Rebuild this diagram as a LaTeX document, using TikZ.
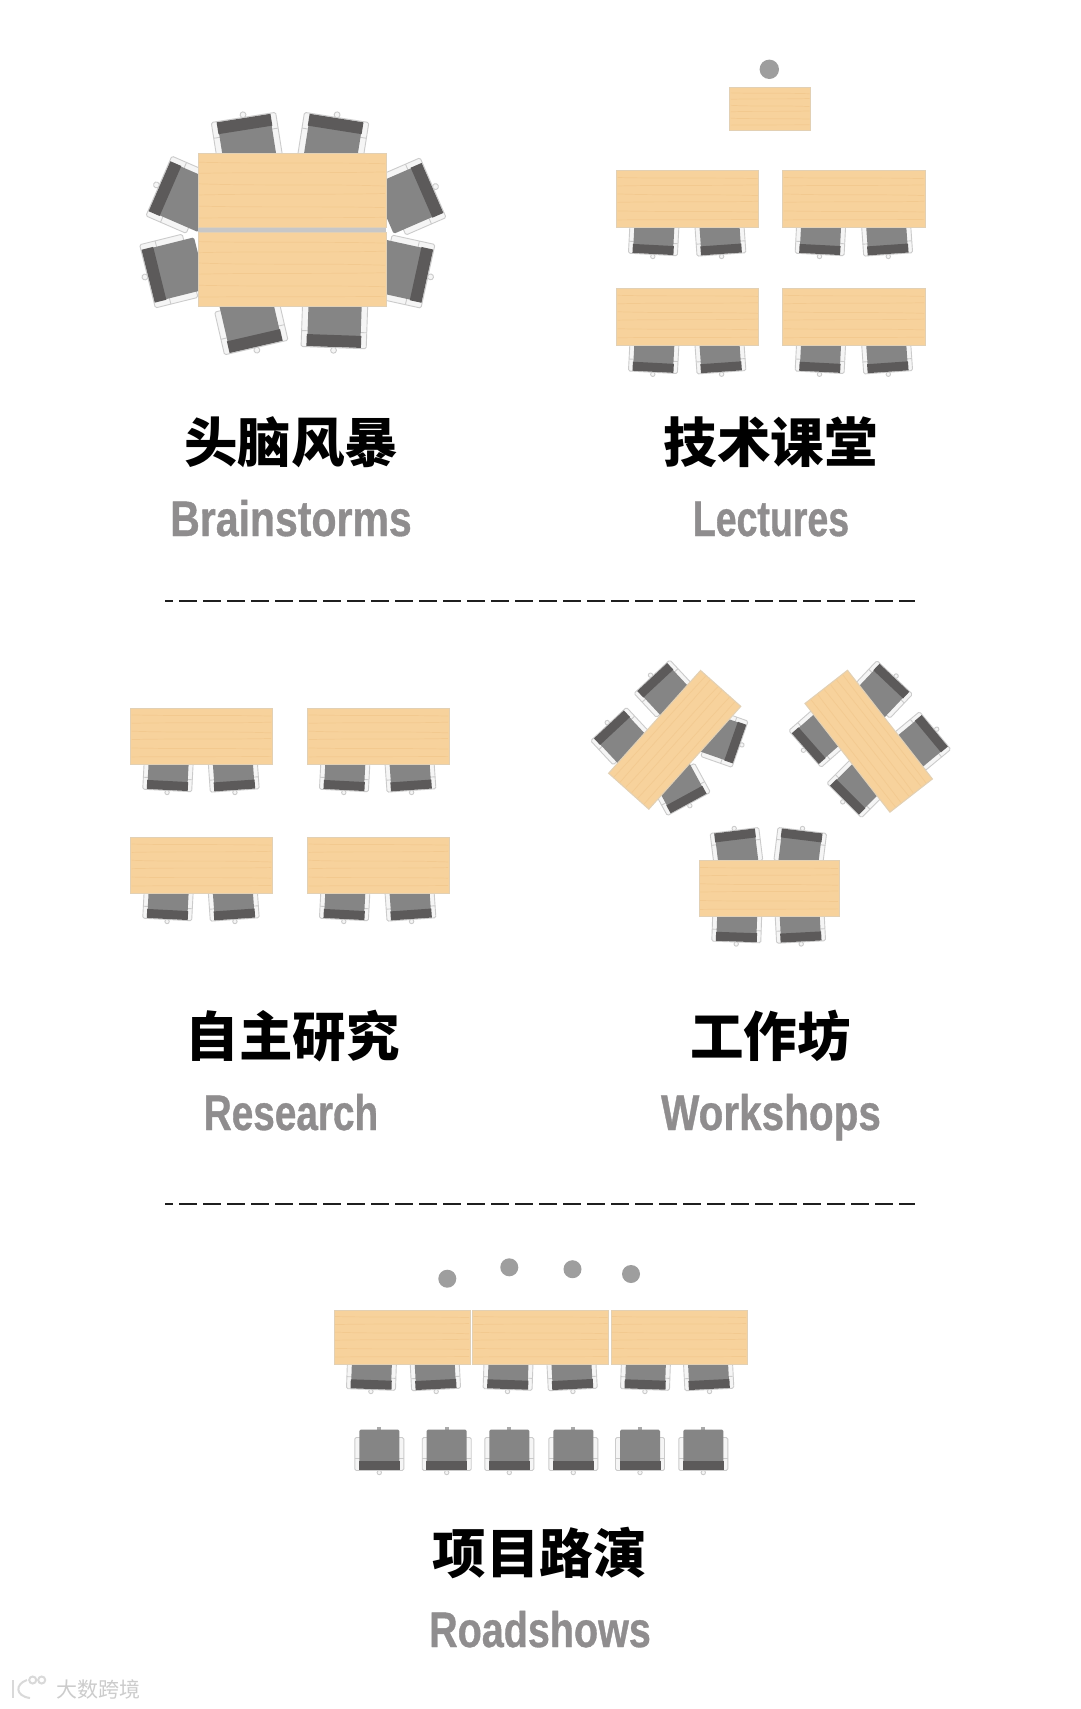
\documentclass[tikz,border=0pt]{standalone}
\usepackage{fontspec}
\newfontfamily\cjk{Noto Sans CJK SC}
\newfontfamily\narrowsans{Liberation Sans}

\definecolor{wood}{HTML}{F7D29C}
\definecolor{woodgrain}{HTML}{EFC386}
\definecolor{woodedge}{HTML}{E2D0B4}
\definecolor{seat}{HTML}{858585}
\definecolor{chairback}{HTML}{5C5A5A}
\definecolor{rail}{HTML}{CBCBCB}
\definecolor{person}{HTML}{9E9E9E}
\definecolor{engrey}{HTML}{8F8D8E}

\tikzset{
  titlecn/.style={font=\cjk\bfseries\fontsize{53.5}{60}\selectfont,anchor=base,inner sep=0pt},
  titleen/.style={font=\narrowsans\bfseries\fontsize{50}{55}\selectfont\addfontfeature{FakeStretch=#1,FakeBold=0.7},text=engrey,anchor=base,inner sep=0pt},
  sepline/.style={draw=black!88,line width=2pt,dash pattern=on 18pt off 6pt,dash phase=10pt},
  railpart/.style={fill=white!96!black,draw=rail,line width=0.9pt},
  logomark/.style={draw=black!15,line width=2pt}
}

% chair: x, y, angle, size (origin in the middle, back towards +y)
\newcommand{\chair}[4]{
\begin{scope}[shift={(#1,#2)},rotate=#3,scale=#4]
  \fill[seat!70] (-2,-22.5) rectangle (2,-19);
  \draw[railpart,rounded corners=1.5pt] (-24.5,-12) rectangle (24.5,21);
  \draw[rail,line width=0.9pt] (-24.5,9) -- (24.5,9);
  \draw[railpart] (0,23) circle (2.2);
  \fill[seat,rounded corners=1.5pt] (-20,-20) rectangle (20,14);
  \fill[chairback] (-20.5,11.5) rectangle (20.5,20.5);
\end{scope}
}

% desk: x, y, width, height, angle
\newcommand{\desk}[5]{
\begin{scope}[shift={(#1,#2)},rotate=#5]
  \fill[wood,draw=woodedge,line width=1pt] (-#3/2,-#4/2) rectangle (#3/2,#4/2);
  \foreach \f/\g in {.12/.14,.27/.25,.41/.44,.56/.54,.71/.73,.87/.86}
    \draw[woodgrain,opacity=0.55,line width=0.7pt] (-#3/2+1,-#4/2+\f*#4) .. controls (-#3/6,-#4/2+\g*#4) and (#3/6,-#4/2+\f*#4) .. (#3/2-1,-#4/2+\g*#4);
\end{scope}
}

\begin{document}
\begin{tikzpicture}[x=1pt,y=-1pt]

\fill[white] (0,0) rectangle (1080,1709);
\useasboundingbox (0,0) rectangle (1080,1709);

%brainstorms:
\foreach \x/\y/\a in {247.8/145/189,332.3/145/171,184.5/197.1/246.5,174.6/269.6/284,
  407.5/198.8/113.5,400.7/270.3/77.6,250/320.3/13,334.6/319.7/-2}
        \chair{\x}{\y}{\a}{1.33};
\fill[black!22] (197.7,227) rectangle (386,233);
\desk{292}{190.5}{188}{74.4}{0}
\desk{292}{269.7}{188}{74}{0}

\node[titlecn] (brainstormcn) at (291,462) {头脑风暴};
\node[titleen=0.82] (brainstormen) at (291,536) {Brainstorms};

%lectures:
\fill[person] (769.3,69.3) circle (9.7);
\desk{770.3}{109.2}{80.7}{43}{0}
\foreach \y in {233.5,351.3}
        \foreach \x/\a in {654/-3,720/4,820.7/-3,886.7/4}
                \chair{\x}{\y}{\a}{1};
\foreach \y in {199,316.8}
        \foreach \x in {687.8,854}
                \desk{\x}{\y}{142.3}{56.6}{0};

\node[titlecn] (lecturecn) at (770.5,462) {技术课堂};
\node[titleen=0.75] (lectureen) at (771,536) {Lectures};

\draw[sepline] (165,600.7) -- (915,600.7);
\draw[sepline] (165,1204) -- (915,1204);

%research:
\foreach \y in {769.5,898.5}
        \foreach \x/\a in {168.3/-3,233.3/4,345/-3,410/4}
                \chair{\x}{\y}{\a}{1};
\foreach \y in {736.2,865.3}
        \foreach \x in {201.4,378.4}
                \desk{\x}{\y}{141.3}{56}{0};

\node[titlecn] (researchcn) at (292.6,1056) {自主研究};
\node[titleen=0.775] (researchen) at (291,1130) {Research};

%workshops:
\foreach \x/\y/\a in {666.2/692/223,622.9/739.4/223,720.2/737.3/70.7,678.8/785.5/28.6,
  880.3/692.7/136.6,919/743.9/129.7,820.7/735.1/311.3,859/785.6/315,
  737/851.3/187,799.7/851.3/173,737/921/-2,800/921/3}
        \chair{\x}{\y}{\a}{1};
\desk{674.7}{739.8}{138}{54}{48.2}
\desk{868.7}{741.2}{138}{54}{-52}
\desk{769.2}{888.7}{140}{56}{0}

\node[titlecn] (workshopcn) at (770.4,1056) {工作坊};
\node[titleen=0.81] (workshopen) at (771,1130) {Workshops};

%roadshows:
\foreach \x/\y in {447.3/1278.7,509.3/1267.3,572.5/1269.2,631/1274}
        \fill[person] (\x,\y) circle (9);
\foreach \x/\a in {371.7/-2,435/3,508.3/-2,571.7/3,645.7/-2,708.3/3}
        \chair{\x}{1368.5}{\a}{1};
\foreach \x in {402,540.5,679}
        \desk{\x}{1337}{136}{54}{0};
\foreach \x in {379.3,446.7,509.3,573.3,640,703.3}
        \chair{\x}{1449.5}{0}{1};

\node[titlecn] (roadshowcn) at (539.5,1573.5) {项目路演};
\node[titleen=0.79] (roadshowen) at (540,1647) {Roadshows};

%watermark:
\draw[logomark] (13,1680) -- (13,1698);
\draw[logomark] (27,1680) .. controls (15,1684) and (15,1696) .. (30,1698);
\draw[logomark] (32.7,1680) circle (3.5);
\draw[logomark] (41.7,1680) circle (3.5);
\node[font=\cjk\fontsize{21}{24}\selectfont,text=black!20,anchor=base,inner sep=0pt] (watermark) at (98.5,1697) {大数跨境};

\end{tikzpicture}
\end{document}
